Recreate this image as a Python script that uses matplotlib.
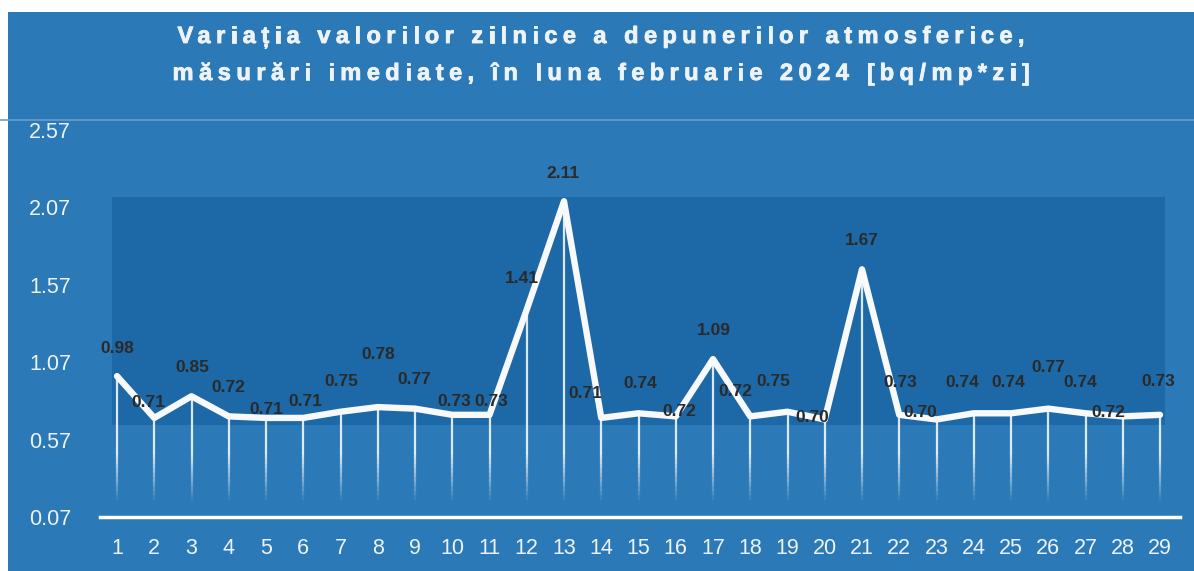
import numpy as np
import matplotlib.pyplot as plt
import matplotlib.patheffects as pe
from matplotlib.patches import Rectangle
from matplotlib.collections import LineCollection
from matplotlib.font_manager import FontProperties

# date: depuneri atmosferice, februarie 2024
days = list(range(1, 30))
values = [0.98, 0.71, 0.85, 0.72, 0.71, 0.71, 0.75, 0.78, 0.77, 0.73,
          0.73, 1.41, 2.11, 0.71, 0.74, 0.72, 1.09, 0.72, 0.75, 0.70,
          1.67, 0.73, 0.70, 0.74, 0.74, 0.77, 0.74, 0.72, 0.73]
yticks = [0.07, 0.57, 1.07, 1.57, 2.07, 2.57]
title_lines = ["Variația valorilor zilnice a depunerilor atmosferice,",
               "măsurări imediate, în luna februarie 2024 [bq/mp*zi]"]

# pozitia etichetelor fata de punct (pixeli)
lbl_off = [(0, 28), (-6, 15), (1, 29), (0, 29), (0, 8), (2, 16), (1, 30), (0, 53),
           (-1, 29), (2, 13), (2, 13), (-5, 31), (-1, 28), (-16, 24), (2, 30), (4, 5),
           (1, 29), (-15, 25), (-14, 30), (-13, 2), (0, 29), (1, 32), (-16, 7), (-11, 31),
           (-3, 31), (0, 41), (-5, 31), (-14, 4), (-2, 33)]

bg = "#2b7ab7"
dark = "#1d68a6"
W, H = 1194, 571

fig = plt.figure(figsize=(W / 100, H / 100), dpi=100)
fig.patch.set_facecolor("white")
fig.patches.append(Rectangle((8 / W, 0), 1, 1 - 12 / H, transform=fig.transFigure,
                             facecolor=bg, edgecolor="none", zorder=-10))
fig.add_artist(plt.Line2D([0, 1], [1 - 120 / H] * 2, color="#6a9cc6", lw=1.2))

ax = fig.add_axes([100 / W, 1 - 517 / H, 1080 / W, 387 / H])
ax.set_facecolor("none")
x0 = 1 - 17 / 37.25
x1 = 29 + 20 / 37.25
ax.set_xlim(x0, x1)
ax.set_ylim(0.07, 2.57)
for s in ax.spines.values():
    s.set_visible(False)
ax.axhline(0.07, color="white", lw=2.5, clip_on=False, zorder=3)

# zona umbrita
vmin, vmax = min(values), max(values)
ax.add_patch(Rectangle((0.87, vmin - 0.035), 28.27, vmax - vmin + 0.06,
                       facecolor=dark, edgecolor="none", zorder=0))

# linii verticale care se estompeaza spre baza
segs, cols = [], []
y_fade0, y_fade1 = 0.5, 0.18
for d, v in zip(days, values):
    segs.append([(d, v), (d, y_fade0)])
    cols.append((1, 1, 1, 0.85))
    ys = np.linspace(y_fade0, y_fade1, 12)
    for k in range(11):
        segs.append([(d, ys[k]), (d, ys[k + 1])])
        cols.append((1, 1, 1, 0.85 * (1 - k / 11)))
ax.add_collection(LineCollection(segs, colors=cols, linewidths=1.6, zorder=1))

ax.plot(days, values, color="#f7f9fb", lw=4.6, solid_joinstyle="round",
        solid_capstyle="round", zorder=4)

for d, v, (dx, dy) in zip(days, values, lbl_off):
    ax.annotate(f"{v:.2f}", (d, v), xytext=(dx, dy), textcoords="offset pixels",
                ha="center", va="center", fontsize=12.5, fontweight="bold",
                color="#2a2a2a", family="Liberation Sans", zorder=5)

ax.set_xticks(days)
ax.set_xticklabels([str(d) for d in days], family="Liberation Sans", fontsize=15.5,
                   color="#eef3f8")
ax.set_yticks(yticks)
ax.set_yticklabels([f"{t:.2f}" for t in yticks], family="Liberation Sans", fontsize=15.5,
                   color="#eef3f8")
ax.tick_params(length=0, axis="x", pad=15)
ax.tick_params(length=0, axis="y", pad=51)
for t in ax.get_yticklabels():
    t.set_ha("left")

# titlu cu spatiere intre litere, litera cu litera
fp = FontProperties(family="Liberation Sans", weight="bold", size=17)
rend = fig.canvas.get_renderer()
def tw(s):
    return rend.get_text_width_height_descent(s, fp, ismath=False)[0]

target_w = 847
sp = (target_w - tw(title_lines[0])) / (len(title_lines[0]) - 1)
cx = 601
bold = [pe.withStroke(linewidth=0.6, foreground="#eef3f8")]
for line, base in zip(title_lines, [43, 80]):
    total = tw(line) + sp * (len(line) - 1)
    start = cx - total / 2
    for i, ch in enumerate(line):
        if ch == " ":
            continue
        xr = start + tw(line[:i + 1]) + i * sp
        fig.text(xr / W, 1 - base / H, ch, ha="right", va="baseline",
                 fontproperties=fp, color="#eef3f8", path_effects=bold)

fig.savefig("out.png", dpi=100, facecolor=fig.get_facecolor())
